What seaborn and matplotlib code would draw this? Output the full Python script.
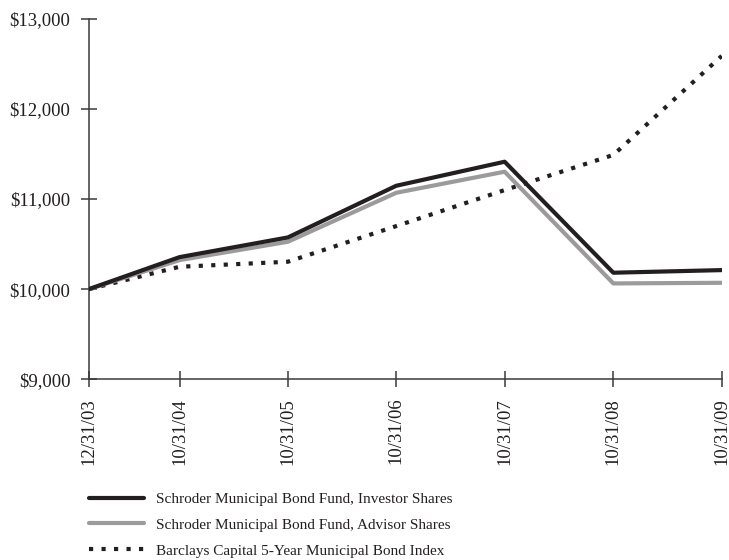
import matplotlib
matplotlib.use("Agg")
import matplotlib.pyplot as plt
import seaborn as sns
import pandas as pd

dates = ["2003-12-31", "2004-10-31", "2005-10-31", "2006-10-31",
         "2007-10-31", "2008-10-31", "2009-10-31"]
tick_labels = ["12/31/03", "10/31/04", "10/31/05", "10/31/06",
               "10/31/07", "10/31/08", "10/31/09"]
investor = [10000, 10355, 10574, 11148, 11415, 10182, 10211]
advisor = [10000, 10322, 10526, 11070, 11304, 10063, 10070]
index_vals = [10000, 10248, 10304, 10700, 11100, 11490, 12590]

series_names = [
    "Schroder Municipal Bond Fund, Investor Shares",
    "Schroder Municipal Bond Fund, Advisor Shares",
    "Barclays Capital 5-Year Municipal Bond Index",
]

sns.set_style("white")
plt.rcParams["font.family"] = ["Liberation Serif", "DejaVu Serif"]

x = pd.to_datetime(dates)
df = pd.DataFrame({"date": x, "investor": investor,
                   "advisor": advisor, "index": index_vals})

fig = plt.figure(figsize=(7.29, 5.6), dpi=100)
ax = fig.add_axes([0.122, 0.323, 0.868, 0.643])

ink = "#231f20"
sns.lineplot(data=df, x="date", y="index", ax=ax, color=ink, lw=3.0,
             linestyle=(0, (1, 2.0)), dash_capstyle="butt",
             label=series_names[2], zorder=2)
sns.lineplot(data=df, x="date", y="advisor", ax=ax, color="#9b9b9b", lw=3.0,
             label=series_names[1], zorder=3)
sns.lineplot(data=df, x="date", y="investor", ax=ax, color=ink, lw=3.0,
             label=series_names[0], zorder=4)

ax.set_xlim(x[0], x[-1])
ax.set_ylim(9000, 13000)
ax.set_yticks([9000, 10000, 11000, 12000, 13000])
ax.set_yticklabels(["$9,000", "$10,000", "$11,000", "$12,000", "$13,000"])
ax.set_xticks(x)
ax.set_xticklabels(tick_labels, rotation=90)
ax.set_xlabel("")
ax.set_ylabel("")

for s in ["top", "right"]:
    ax.spines[s].set_visible(False)
for s in ["left", "bottom"]:
    ax.spines[s].set_color("#3a3a3a")
    ax.spines[s].set_linewidth(1.1)
    ax.spines[s].set_zorder(1)
ax.tick_params(axis="both", bottom=True, left=True, direction="inout",
               length=11, width=1.1, color="#3a3a3a", labelsize=13.5,
               labelcolor="#231f20", pad=8)

handles, labels = ax.get_legend_handles_labels()
order = [labels.index(n) for n in series_names]
ax.get_legend().remove()
leg = fig.legend([handles[i] for i in order], [labels[i] for i in order],
                 loc="upper left", bbox_to_anchor=(0.114, 0.132),
                 frameon=False, fontsize=11, handlelength=3.6,
                 handletextpad=0.8, labelspacing=0.8, borderaxespad=0)
for t in leg.get_texts():
    t.set_color("#231f20")

fig.savefig("out.png", dpi=100)
